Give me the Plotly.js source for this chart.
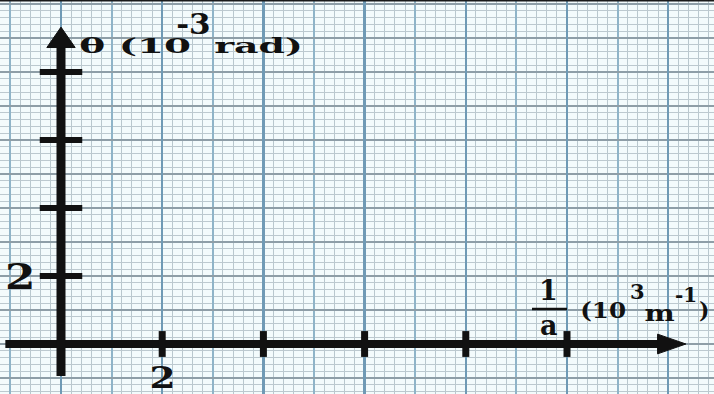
<!DOCTYPE html>
<html>
<head>
<meta charset="utf-8">
<script src="https://cdn.plot.ly/plotly-3.0.1.min.js"></script>
<style>
  html, body { margin: 0; padding: 0; background: #f3fbfc; }
  #chart { width: 714px; height: 394px; }
</style>
</head>
<body>
<div id="chart"></div>
<script>
// Tick positions on each axis (units: 10^3 m^-1 horizontally, 10^-3 rad vertically)
const xTicks = [2, 4, 6, 8, 10];
const yTicks = [2, 4, 6, 8];
// Numbered ticks
const xTickLabels = [{ v: 2, t: "2" }];
const yTickLabels = [{ v: 2, t: "2" }];
// Axis extents (start of shaft, tip of arrow)
const xAxisExtent = [-1.1, 12.35];
const yAxisExtent = [-0.94, 9.32];

// plot frame: origin 61px from the left, 50px from the bottom; 50.6px per x unit, 34px per y unit
const PX_X = 50.6, PX_Y = 34, OX = 61, OY = 344;
const xRange = [-OX / PX_X, (714 - OX) / PX_X];
const yRange = [(OY - 394) / PX_Y, OY / PX_Y];
const dx = px => (px - OX) / PX_X;
const dy = py => (OY - py) / PX_Y;

const ink = "#111111";
const serif = "DejaVu Serif, Liberation Serif, serif";
const shapes = [];

// axis shafts
shapes.push({ type: "line", xref: "x", yref: "y", x0: xAxisExtent[0], x1: xAxisExtent[1] - 0.5, y0: 0, y1: 0,
  line: { color: ink, width: 8 } });
shapes.push({ type: "line", xref: "x", yref: "y", x0: 0, x1: 0, y0: yAxisExtent[0], y1: yAxisExtent[1] - 0.55,
  line: { color: ink, width: 9 } });

// arrowheads
const hx = xAxisExtent[1];
shapes.push({ type: "path", xref: "x", yref: "y",
  path: `M ${hx - 0.56} -0.29 L ${hx} 0 L ${hx - 0.56} 0.29 Z`,
  fillcolor: ink, line: { color: ink, width: 1 } });
const vy = yAxisExtent[1];
shapes.push({ type: "path", xref: "x", yref: "y",
  path: `M -0.28 ${vy - 0.6} L 0 ${vy} L 0.28 ${vy - 0.6} Z`,
  fillcolor: ink, line: { color: ink, width: 1 } });

// tick marks
xTicks.forEach(v => shapes.push({ type: "line", xref: "x", yref: "y", x0: v, x1: v, y0: -0.38, y1: 0.38,
  line: { color: ink, width: 7 } }));
yTicks.forEach(v => shapes.push({ type: "line", xref: "x", yref: "y", x0: -0.42, x1: 0.42, y0: v, y1: v,
  line: { color: ink, width: 6 } }));

// fraction bar of 1/a
shapes.push({ type: "line", xref: "x", yref: "y", x0: dx(532), x1: dx(567), y0: dy(309), y1: dy(309),
  line: { color: ink, width: 2.5 } });

// dark top edge
shapes.push({ type: "line", xref: "paper", yref: "paper", x0: 0, x1: 1, y0: 1, y1: 1,
  line: { color: "#1a1a1a", width: 3 } });

// text pieces; sx widens the lettering horizontally about its anchor
const annotations = [];
const stretch = [];
function piece(text, x, y, size, sx, anchor, boxHeight) {
  const a = { x: x, y: y, xref: "x", yref: "y", xanchor: anchor || "left", yanchor: "middle",
    text: "<b>" + text + "</b>", showarrow: false, font: { family: serif, size: size, color: ink } };
  if (boxHeight) a.height = boxHeight;
  annotations.push(a);
  stretch.push({ sx: sx, anchor: anchor || "left" });
}

xTickLabels.forEach(d => piece(d.t, d.v, dy(377), 30, 1.25, "center", 24));
yTickLabels.forEach(d => piece(d.t, dx(20), d.v, 35, 1.25, "center"));

// vertical axis title: θ (10^-3 rad)
piece("θ (10", dx(76), dy(45), 21, 1.85);
piece("-3", dx(174), dy(24), 27, 1.15);
piece("rad)", dx(211), dy(45), 21, 1.8);

// horizontal axis title: 1/a (10^3 m^-1)
piece("1", dx(548), dy(290), 27, 1.0, "center");
piece("a", dx(549), dy(325), 27, 1.0, "center");
piece("(10", dx(578), dy(310), 22, 1.12);
piece("3", dx(628), dy(291), 21, 1.0);
piece("m", dx(642), dy(313), 22, 1.3);
piece("-1", dx(673), dy(295), 20, 1.0);
piece(")", dx(697), dy(310), 22, 1.0);

const gridAxis = {
  range: xRange, showticklabels: false, zeroline: false, showline: false, ticks: "",
};

const layout = {
  width: 714, height: 394,
  margin: { l: 0, r: 0, t: 0, b: 0 },
  paper_bgcolor: "#f3fbfc", plot_bgcolor: "#f3fbfc",
  showlegend: false,
  xaxis: Object.assign({}, gridAxis, {
    tick0: 0, dtick: 1, showgrid: true, gridcolor: "#8fb4c8", gridwidth: 2,
    minor: { tick0: 0, dtick: 0.2, showgrid: true, gridcolor: "#b9c8ce", gridwidth: 1 }
  }),
  xaxis2: Object.assign({}, gridAxis, {
    overlaying: "x", anchor: "y", tick0: 0, dtick: 2, showgrid: true, gridcolor: "#6f9ab5", gridwidth: 2.5
  }),
  yaxis: {
    range: yRange, showticklabels: false, zeroline: false, showline: false, ticks: "",
    tick0: 0, dtick: 1, showgrid: true, gridcolor: "#8e9ea7", gridwidth: 1.5,
    minor: { tick0: 0, dtick: 0.2, showgrid: true, gridcolor: "#bcc9cf", gridwidth: 1 }
  },
  shapes: shapes,
  annotations: annotations
};

const data = [
  { x: [], y: [], type: "scatter", mode: "lines", xaxis: "x", yaxis: "y", hoverinfo: "skip" },
  { x: [], y: [], type: "scatter", mode: "lines", xaxis: "x2", yaxis: "y", hoverinfo: "skip" }
];

Plotly.newPlot("chart", data, layout, { displayModeBar: false, staticPlot: true }).then(gd => {
  gd.querySelectorAll("g.annotation").forEach(g => {
    const i = +g.getAttribute("data-index");
    const s = stretch[i];
    if (!s || s.sx === 1) return;
    const bb = g.getBBox();
    const ax = s.anchor === "center" ? bb.x + bb.width / 2 : bb.x;
    g.setAttribute("transform", `translate(${ax},0) scale(${s.sx},1) translate(${-ax},0)`);
  });
});
</script>
</body>
</html>
